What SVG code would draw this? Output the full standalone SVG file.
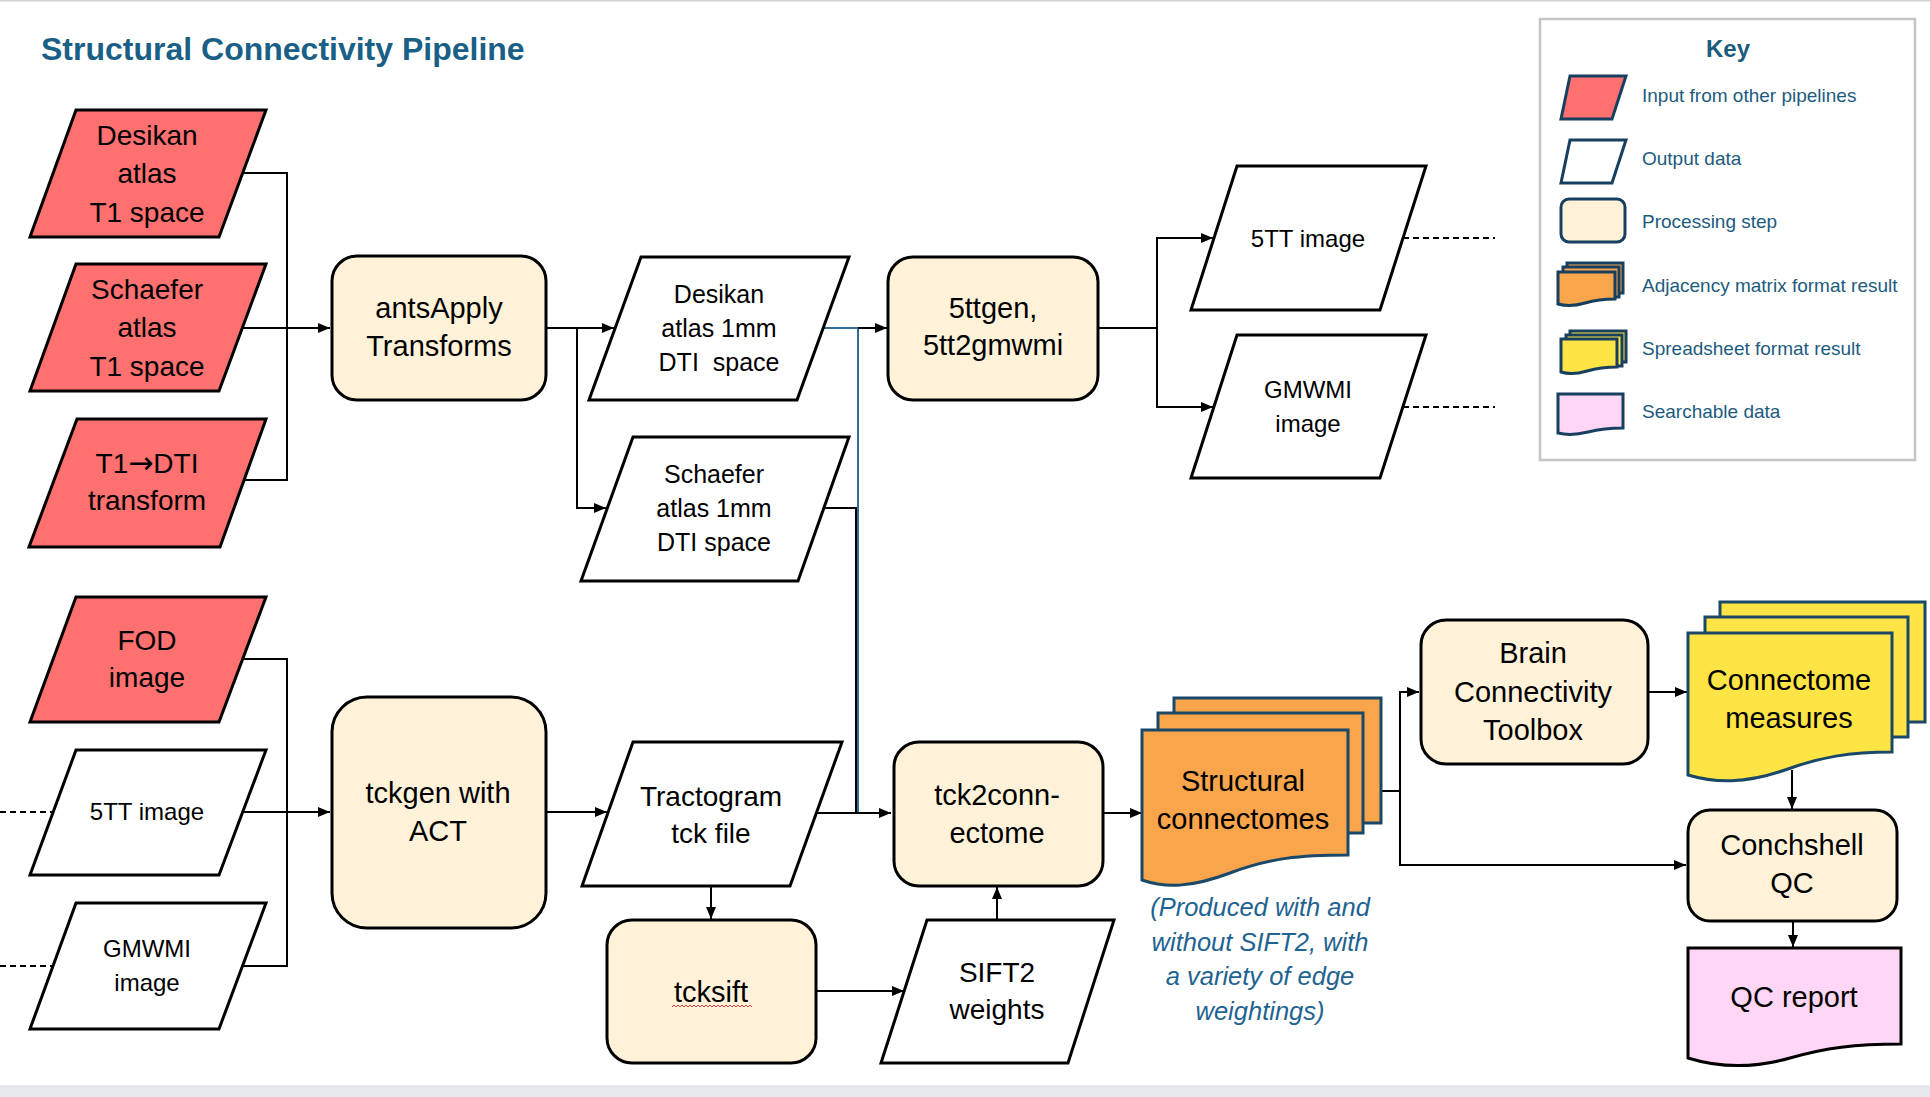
<svg xmlns="http://www.w3.org/2000/svg" width="1930" height="1097" viewBox="0 0 1930 1097">
<defs>
<marker id="arr" viewBox="0 0 12 12" markerWidth="12" markerHeight="12" refX="12" refY="6" orient="auto" markerUnits="userSpaceOnUse">
<path d="M0,1 L12,6 L0,11 z" fill="#000"/>
</marker>
</defs>
<style>
.t{font-family:"Liberation Sans",Arial,sans-serif;fill:#000;text-anchor:middle}
.big{font-size:28px}
.proc{font-size:29px}
.med{font-size:25px}
.sm{font-size:24px}
.red{fill:#ff7070;stroke:#000;stroke-width:3;stroke-linejoin:miter}
.out{fill:#fff;stroke:#000;stroke-width:3}
.step{fill:#fff2d9;stroke:#000;stroke-width:3}
.orange{fill:#f9a54b;stroke:#1a4868;stroke-width:3}
.yellow{fill:#ffe445;stroke:#1a4868;stroke-width:3}
.pink{fill:#ffd6f6;stroke:#000;stroke-width:3}
.c{fill:none;stroke:#000;stroke-width:2}
.blue{fill:none;stroke:#2f6f96;stroke-width:2}
.dash{fill:none;stroke:#000;stroke-width:2;stroke-dasharray:6 4}
.key{font-family:"Liberation Sans",Arial,sans-serif;font-size:19px;fill:#1d5b7e}
.kicon{stroke:#173f5f;stroke-width:3}
</style>
<rect x="0" y="0" width="1930" height="1097" fill="#fff"/>
<line x1="0" y1="0.5" x2="1930" y2="0.5" stroke="#d0d0d0" stroke-width="2"/>
<rect x="0" y="1085" width="1930" height="12" fill="#e6e8eb"/>

<text x="41" y="60" style="font-family:'Liberation Sans',Arial,sans-serif;font-size:32px;font-weight:bold;fill:#1a5f85">Structural Connectivity Pipeline</text>

<g id="connectors">
<path class="c" d="M243,173 H287 V480 H244"/>
<path class="c" d="M242,328 H330" marker-end="url(#arr)"/>
<path class="c" d="M546,328 H614" marker-end="url(#arr)"/>
<path class="c" d="M577,328 V508 H606" marker-end="url(#arr)"/>
<path class="blue" d="M823,328 H858 V813"/>
<path class="c" d="M858,328 H887" marker-end="url(#arr)"/>
<path class="c" d="M824,508 H856 V813"/>
<path class="c" d="M816,813 H891" marker-end="url(#arr)"/>
<path class="c" d="M1098,328 H1157"/>
<path class="c" d="M1157,328 V238 H1213" marker-end="url(#arr)"/>
<path class="c" d="M1157,328 V407 H1213" marker-end="url(#arr)"/>
<path class="dash" d="M1403,238 H1495"/>
<path class="dash" d="M1403,407 H1495"/>
<path class="dash" d="M0,812 H53"/>
<path class="dash" d="M0,966 H53"/>
<path class="c" d="M243,659 H287 V966 H242"/>
<path class="c" d="M243,812 H330" marker-end="url(#arr)"/>
<path class="c" d="M546,812 H607" marker-end="url(#arr)"/>
<path class="c" d="M711,886 V919" marker-end="url(#arr)"/>
<path class="c" d="M816,991 H904" marker-end="url(#arr)"/>
<path class="c" d="M997,920 V887" marker-end="url(#arr)"/>
<path class="c" d="M1103,813 H1142" marker-end="url(#arr)"/>
<path class="c" d="M1381,791 H1400"/>
<path class="c" d="M1400,791 V692 H1419" marker-end="url(#arr)"/>
<path class="c" d="M1400,791 V865 H1686" marker-end="url(#arr)"/>
<path class="c" d="M1648,692 H1687" marker-end="url(#arr)"/>
<path class="c" d="M1792,770 V809" marker-end="url(#arr)"/>
<path class="c" d="M1793,921 V947" marker-end="url(#arr)"/>
</g>

<g id="desikan-t1">
<polygon class="red" points="76,110 266,110 219,237 30,237"/>
<text class="t big" x="147" y="145">Desikan</text>
<text class="t big" x="147" y="183">atlas</text>
<text class="t big" x="147" y="222">T1 space</text>
</g>
<g id="schaefer-t1">
<polygon class="red" points="76,264 266,264 219,391 30,391"/>
<text class="t big" x="147" y="299">Schaefer</text>
<text class="t big" x="147" y="337">atlas</text>
<text class="t big" x="147" y="376">T1 space</text>
</g>
<g id="t1-dti">
<polygon class="red" points="77,419 266,419 220,547 29,547"/>
<text class="t big" x="147" y="473">T1<tspan style="font-family:'DejaVu Sans',sans-serif;font-size:30px">→</tspan>DTI</text>
<text class="t big" x="147" y="510">transform</text>
</g>
<g id="ants">
<rect class="step" x="332" y="256" width="214" height="144" rx="25"/>
<text class="t proc" x="439" y="318">antsApply</text>
<text class="t proc" x="439" y="356">Transforms</text>
</g>
<g id="desikan-dti">
<polygon class="out" points="641,257 849,257 797,400 589,400"/>
<text class="t med" x="719" y="303">Desikan</text>
<text class="t med" x="719" y="337">atlas 1mm</text>
<text class="t med" x="719" y="371" xml:space="preserve">DTI  space</text>
</g>
<g id="schaefer-dti">
<polygon class="out" points="633,437 849,437 798,581 581,581"/>
<text class="t med" x="714" y="483">Schaefer</text>
<text class="t med" x="714" y="517">atlas 1mm</text>
<text class="t med" x="714" y="551">DTI space</text>
</g>
<g id="fivettgen">
<rect class="step" x="888" y="257" width="210" height="143" rx="25"/>
<text class="t proc" x="993" y="318">5ttgen,</text>
<text class="t proc" x="993" y="355">5tt2gmwmi</text>
</g>
<g id="fivett-top">
<polygon class="out" points="1237,166 1426,166 1380,310 1191,310"/>
<text class="t sm" x="1308" y="247">5TT image</text>
</g>
<g id="gmwmi-top">
<polygon class="out" points="1237,335 1426,335 1380,478 1191,478"/>
<text class="t sm" x="1308" y="398">GMWMI</text>
<text class="t sm" x="1308" y="432">image</text>
</g>
<g id="fod">
<polygon class="red" points="76,597 266,597 219,722 30,722"/>
<text class="t big" x="147" y="650">FOD</text>
<text class="t big" x="147" y="687">image</text>
</g>
<g id="fivett-left">
<polygon class="out" points="76,750 266,750 219,875 30,875"/>
<text class="t sm" x="147" y="820">5TT image</text>
</g>
<g id="gmwmi-left">
<polygon class="out" points="76,903 266,903 219,1029 30,1029"/>
<text class="t sm" x="147" y="957">GMWMI</text>
<text class="t sm" x="147" y="991">image</text>
</g>
<g id="tckgen">
<rect class="step" x="332" y="697" width="214" height="231" rx="35"/>
<text class="t proc" x="438" y="803">tckgen with</text>
<text class="t proc" x="438" y="841">ACT</text>
</g>
<g id="tractogram">
<polygon class="out" points="633,742 842,742 790,886 582,886"/>
<text class="t big" x="711" y="806">Tractogram</text>
<text class="t big" x="711" y="843">tck file</text>
</g>
<g id="tck2conn">
<rect class="step" x="894" y="742" width="209" height="144" rx="25"/>
<text class="t proc" x="997" y="805">tck2conn-</text>
<text class="t proc" x="997" y="843">ectome</text>
</g>
<g id="tcksift">
<rect class="step" x="607" y="920" width="209" height="143" rx="25"/>
<text class="t proc" x="711" y="1002">tcksift</text>
<path d="M672,1007 l2,-2 l2,2 l2,-2 l2,2 l2,-2 l2,2 l2,-2 l2,2 l2,-2 l2,2 l2,-2 l2,2 l2,-2 l2,2 l2,-2 l2,2 l2,-2 l2,2 l2,-2 l2,2 l2,-2 l2,2 l2,-2 l2,2 l2,-2 l2,2 l2,-2 l2,2 l2,-2 l2,2 l2,-2 l2,2 l2,-2 l2,2 l2,-2 l2,2 l2,-2 l2,2 l2,-2 l2,2" fill="none" stroke="#e04040" stroke-width="1"/>
</g>
<g id="sift2">
<polygon class="out" points="927,920 1114,920 1068,1063 881,1063"/>
<text class="t big" x="997" y="982">SIFT2</text>
<text class="t big" x="997" y="1019">weights</text>
</g>
<g id="structural">
<rect class="orange" x="1174" y="698" width="207" height="125"/>
<rect class="orange" x="1158" y="713" width="205" height="120"/>
<path class="orange" d="M1142,730 H1348 V855 C1300,855 1270,858 1230,873 C1190,888 1165,888 1142,880 Z"/>
<text class="t proc" x="1243" y="791">Structural</text>
<text class="t proc" x="1243" y="829">connectomes</text>
</g>
<g id="caption">
<text class="t" style="font-size:25.5px;font-style:italic;fill:#1f6391" x="1260" y="916">(Produced with and</text>
<text class="t" style="font-size:25.5px;font-style:italic;fill:#1f6391" x="1260" y="951">without SIFT2, with</text>
<text class="t" style="font-size:25.5px;font-style:italic;fill:#1f6391" x="1260" y="985">a variety of edge</text>
<text class="t" style="font-size:25.5px;font-style:italic;fill:#1f6391" x="1260" y="1020">weightings)</text>
</g>
<g id="bct">
<rect class="step" x="1421" y="620" width="227" height="144" rx="25"/>
<text class="t proc" x="1533" y="663">Brain</text>
<text class="t proc" x="1533" y="702">Connectivity</text>
<text class="t proc" x="1533" y="740">Toolbox</text>
</g>
<g id="measures">
<rect class="yellow" x="1720" y="602" width="205" height="120"/>
<rect class="yellow" x="1705" y="617" width="203" height="120"/>
<path class="yellow" d="M1688,633 H1892 V752 C1850,752 1820,757 1785,770 C1745,784 1715,783 1688,775 Z"/>
<text class="t proc" x="1789" y="690">Connectome</text>
<text class="t proc" x="1789" y="728">measures</text>
</g>
<g id="conchshell">
<rect class="step" x="1688" y="810" width="209" height="111" rx="22"/>
<text class="t proc" x="1792" y="855">Conchshell</text>
<text class="t proc" x="1792" y="893">QC</text>
</g>
<g id="qcreport">
<path class="pink" d="M1688,948 H1901 V1044 C1855,1044 1825,1048 1790,1058 C1755,1068 1720,1068 1688,1058 Z"/>
<text class="t proc" x="1794" y="1007">QC report</text>
</g>

<g id="key">
<rect x="1540" y="19" width="375" height="441" fill="#fff" stroke="#c4c4c4" stroke-width="2.5"/>
<text x="1728" y="57" style="font-family:'Liberation Sans',Arial,sans-serif;font-size:24px;font-weight:bold;fill:#1d5b7e;text-anchor:middle">Key</text>
<polygon class="kicon" fill="#ff7070" points="1570,76 1626,76 1612,119 1561,119"/>
<text class="key" x="1642" y="102">Input from other pipelines</text>
<polygon class="kicon" fill="#fff" points="1570,140 1626,140 1612,183 1561,183"/>
<text class="key" x="1642" y="165">Output data</text>
<rect class="kicon" fill="#fff2d9" x="1561" y="199" width="64" height="43" rx="8"/>
<text class="key" x="1642" y="228">Processing step</text>
<rect class="kicon" fill="#f9a54b" x="1567" y="263" width="56" height="30"/>
<rect class="kicon" fill="#f9a54b" x="1563" y="267" width="56" height="30"/>
<path class="kicon" fill="#f9a54b" d="M1558,272 H1615 V299 C1600,299 1592,301 1585,303 C1575,306 1565,306 1558,304 Z"/>
<text class="key" x="1642" y="292">Adjacency matrix format result</text>
<rect class="kicon" fill="#ffe445" x="1570" y="331" width="56" height="31"/>
<rect class="kicon" fill="#ffe445" x="1566" y="335" width="56" height="31"/>
<path class="kicon" fill="#ffe445" d="M1561,339 H1617 V367 C1602,367 1594,369 1587,371 C1577,374 1567,374 1561,372 Z"/>
<text class="key" x="1642" y="355">Spreadsheet format result</text>
<path class="kicon" fill="#ffd6f6" d="M1558,394 H1623 V428 C1606,428 1596,430 1588,432 C1576,435 1566,435 1558,433 Z"/>
<text class="key" x="1642" y="418">Searchable data</text>
</g>
</svg>
